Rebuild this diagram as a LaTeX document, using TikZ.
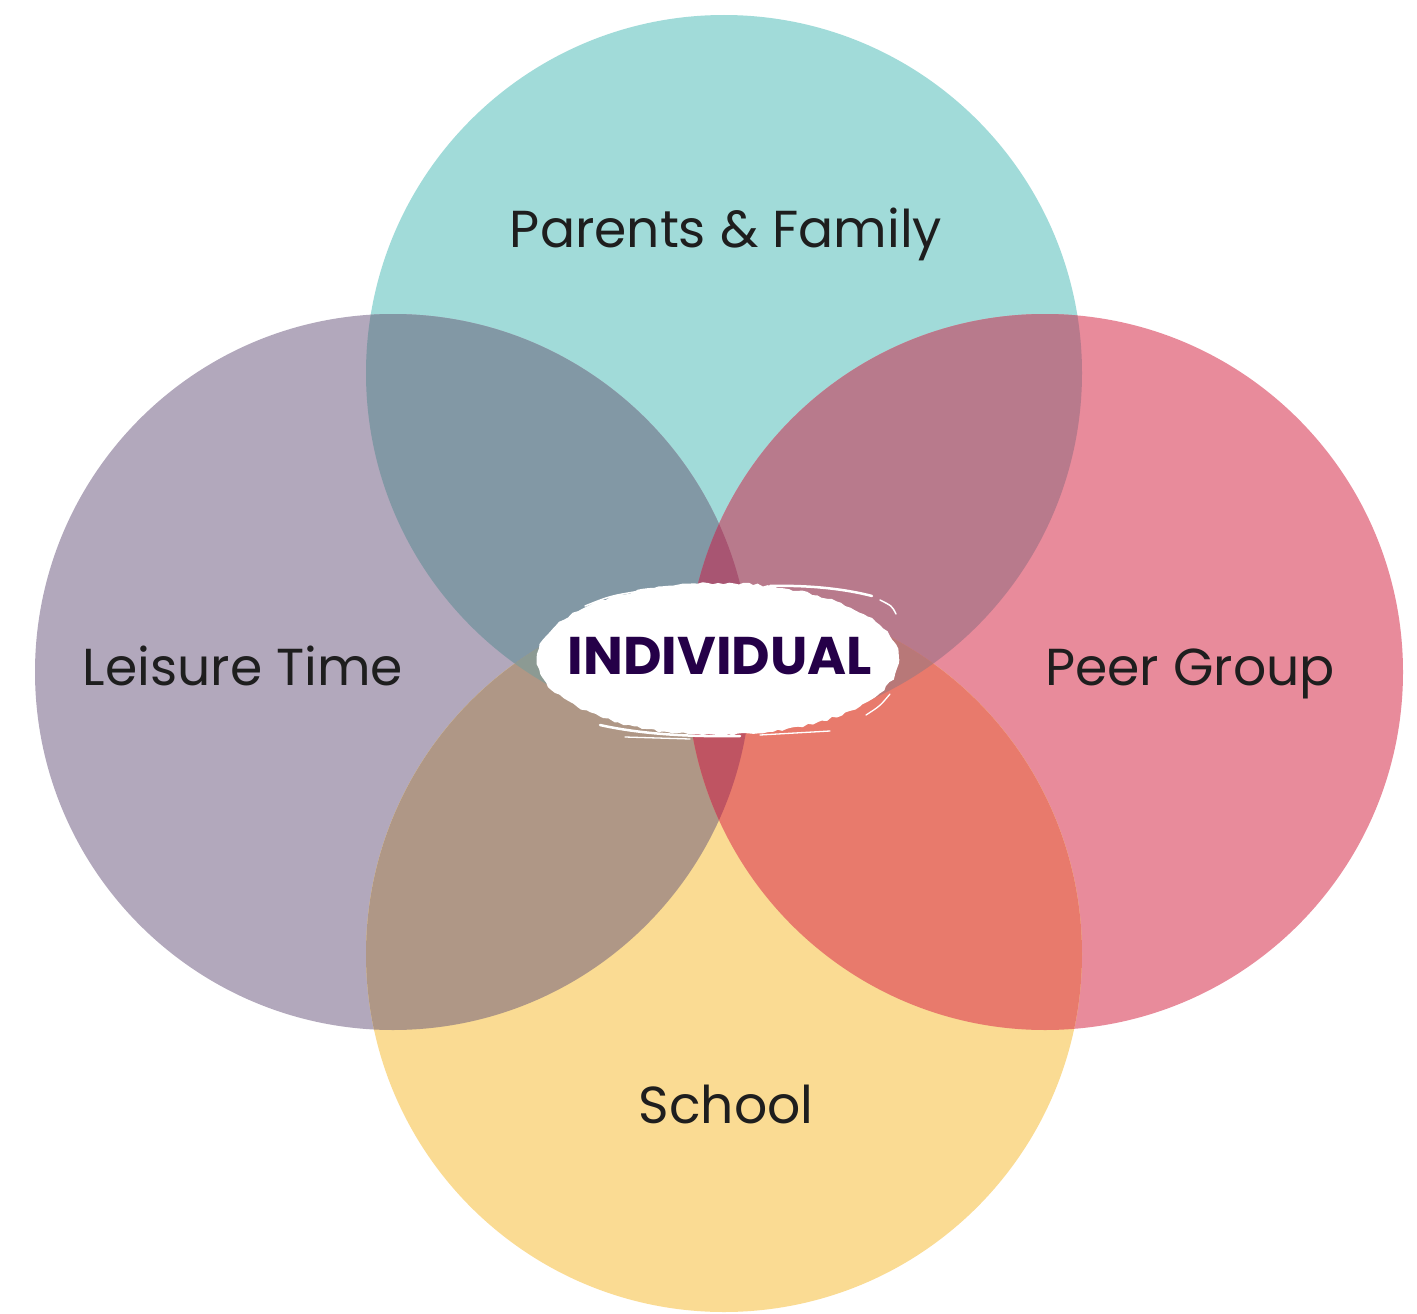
\documentclass[tikz,border=0pt]{standalone}
\usepackage{fontspec}
\setmainfont{Poppins}
\usetikzlibrary{decorations.pathmorphing}
\definecolor{cT}{HTML}{A1DBD9}
\definecolor{cL}{HTML}{B2A8BC}
\definecolor{cR}{HTML}{E88B9B}
\definecolor{cB}{HTML}{FADB93}
\definecolor{cTL}{HTML}{8298A5}
\definecolor{cTR}{HTML}{B87A8C}
\definecolor{cBL}{HTML}{AF9786}
\definecolor{cBR}{HTML}{E87A6C}
\definecolor{cTLR}{HTML}{A85572}
\definecolor{cBLR}{HTML}{BF5462}
\definecolor{cTBL}{HTML}{8C9A93}
\definecolor{cTBR}{HTML}{B87878}
\definecolor{labeltext}{HTML}{1E1E1E}
\definecolor{indiv}{HTML}{250048}
\tikzset{
  lbl/.style={anchor=base, text=labeltext, font=\fontsize{52}{60}\selectfont, inner sep=0pt},
  centerlbl/.style={anchor=base, text=indiv, font=\fontsize{53}{62}\selectfont\bfseries, inner sep=0pt},
  streak/.style={white, line width=2.5pt, line cap=round},
}
\begin{document}
\begin{tikzpicture}[x=1pt,y=-1pt]
\useasboundingbox (0,0) rectangle (1417,1314);
\coordinate (T) at (724,373);
\coordinate (L) at (393,672);
\coordinate (R) at (1045,672);
\coordinate (B) at (724,954);
\def\rad{358pt}
% single circles
\fill[cT] (T) circle[radius=\rad];
\fill[cL] (L) circle[radius=\rad];
\fill[cR] (R) circle[radius=\rad];
\fill[cB] (B) circle[radius=\rad];
% pair overlaps
\begin{scope}\clip (T) circle[radius=\rad]; \fill[cTL] (L) circle[radius=\rad];\end{scope}
\begin{scope}\clip (T) circle[radius=\rad]; \fill[cTR] (R) circle[radius=\rad];\end{scope}
\begin{scope}\clip (B) circle[radius=\rad]; \fill[cBL] (L) circle[radius=\rad];\end{scope}
\begin{scope}\clip (B) circle[radius=\rad]; \fill[cBR] (R) circle[radius=\rad];\end{scope}
% triple overlaps
\begin{scope}\clip (T) circle[radius=\rad]; \clip (B) circle[radius=\rad]; \fill[cTBL] (L) circle[radius=\rad];\end{scope}
\begin{scope}\clip (T) circle[radius=\rad]; \clip (B) circle[radius=\rad]; \fill[cTBR] (R) circle[radius=\rad];\end{scope}
\begin{scope}\clip (L) circle[radius=\rad]; \clip (R) circle[radius=\rad]; \fill[cTLR] (T) circle[radius=\rad];\end{scope}
\begin{scope}\clip (L) circle[radius=\rad]; \clip (R) circle[radius=\rad]; \fill[cBLR] (B) circle[radius=\rad];\end{scope}
% brush ellipse
\pgfmathsetseed{7}
\fill[white, decorate, decoration={random steps, segment length=5pt, amplitude=1.2pt}]
  (718,659) ellipse[x radius=181pt, y radius=76pt];
\draw[streak] (770,586) .. controls (810,585) and (845,589) .. (872,596);
\draw[streak, line width=1.5pt] (880,600) .. controls (892,606) .. (896,614);
\draw[streak, line width=1.5pt] (585,606) .. controls (610,596) .. (640,591);
\draw[streak] (600,725) .. controls (640,734) and (690,737) .. (740,736);
\draw[streak, line width=1.3pt] (625,737) -- (690,739);
\draw[streak, line width=1.3pt] (760,735) -- (830,731);
\draw[streak, line width=1.3pt] (866,715) .. controls (880,706) .. (890,694);
% labels
\node[lbl] (family) at (726,247) {Parents \& Family};
\node[lbl] (leisure) at (243,685) {Leisure Time};
\node[lbl] (peer) at (1190,685) {Peer Group};
\node[lbl] (school) at (726,1123) {School};
\node[centerlbl] (individual) at (720,674) {INDIVIDUAL};
\end{tikzpicture}
\end{document}
